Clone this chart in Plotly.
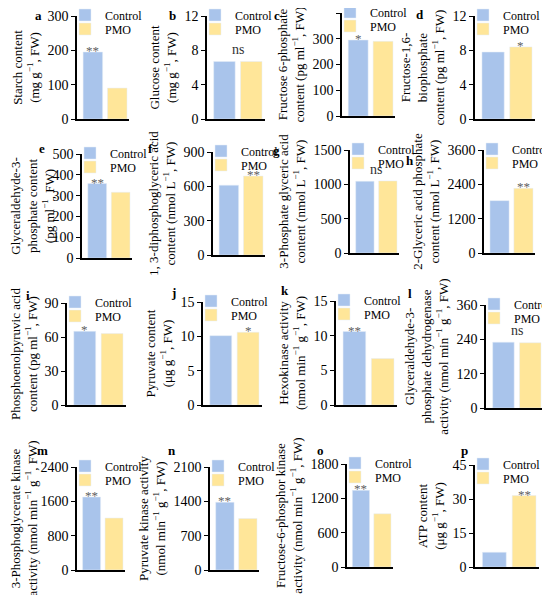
import plotly.graph_objects as go

W, H = 550, 595
groups = ["Control", "PMO"]
letters = list("abcdefghijklmnop")

y_titles = [
    "Starch content<br>(mg g<sup>−1</sup>, FW)",
    "Glucose content<br>(mg g<sup>−1</sup>, FW)",
    "Fructose 6-phosphate<br>content (pg ml<sup>−1</sup>, FW)",
    "Fructose-1,6-<br>biophosphate<br>content (pg ml<sup>−1</sup>, FW)",
    "Glyceraldehyde-3-<br>phosphate content<br>(pg ml<sup>−1</sup>, FW)",
    "1, 3-diphosphoglyceric acid<br>content (nmol L<sup>−1</sup>, FW)",
    "3-Phosphate glyceric acid<br>content (nmol L<sup>−1</sup>, FW)",
    "2-Glyceric acid phosphate<br>content (nmol L<sup>−1</sup>, FW)",
    "Phosphoenolpyruvic acid<br>content (pg ml<sup>−1</sup>, FW)",
    "Pyruvate content<br>(μg g<sup>−1</sup>, FW)",
    "Hexokinase activity<br>(nmol min<sup>−1</sup> g<sup>−1</sup>, FW)",
    "Glyceraldehyde-3-<br>phosphate dehydrogenase<br>activity (nmol min<sup>−1</sup> g<sup>−1</sup>, FW)",
    "3-Phosphoglycerate kinase<br>activity (nmol min<sup>−1</sup> g<sup>−1</sup>, FW)",
    "Pyruvate kinase activity<br>(nmol min<sup>−1</sup> g<sup>−1</sup>, FW)",
    "Fructose-6-phosphor kinase<br>activity (nmol min<sup>−1</sup> g<sup>−1</sup>, FW)",
    "ATP content<br>(μg g<sup>−1</sup>, FW)",
]

control = [195, 6.7, 295, 7.8, 358, 610, 1045, 1830,
           65, 10.1, 10.6, 230, 1700, 1380, 1340, 6.5]
pmo = [90, 6.7, 290, 8.4, 316, 690, 1050, 2260,
       63, 10.6, 6.7, 228, 1210, 1050, 930, 31.5]
y_max = [300, 12, 400, 12, 500, 900, 1500, 3600,
         90, 15, 15, 360, 2400, 2100, 1800, 45]
y_step = [100, 4, 100, 4, 100, 300, 500, 1200,
          30, 5, 5, 120, 800, 700, 600, 15]
sig_text = ["**", "ns", "*", "*", "**", "**", "ns", "**",
            "*", "*", "**", "ns", "**", "**", "**", "**"]
sig_pos = [0, 0.5, 0, 1, 0, 1, 0.5, 1,
           0, 1, 0, 0.5, 0, 0, 0, 1]

# panel frames in px: y spine x, right edge of PMO bar, top, bottom
frames = [
    (77, 127, 16, 119), (207, 262, 16, 119), (342, 393, 13, 116), (475, 532, 16, 119),
    (82, 130, 154, 258), (213, 263, 152, 255), (350, 397, 150, 253), (484, 533, 150, 253),
    (67, 123, 303, 405), (203, 259, 302, 405), (336, 394, 301, 405), (486, 541, 305, 408),
    (77, 123, 467, 570), (210, 257, 467, 570), (347, 391, 464, 567), (475, 536, 465, 567),
]
title_gap = [5, 5, 5, 5, 10, 5, 5, 5, 6, 5, 5, 5, 5, 5, 5, 5]
letter_xy = [
    (38, 16), (172, 16), (277, 16), (420, 15),
    (42, 148), (150, 148), (276, 150), (410, 160),
    (28, 295), (173, 292), (285, 290), (410, 293),
    (42, 450), (172, 450), (320, 450), (464, 450),
]

BLUE = "#a9c4eb"
YELLOW = "#ffe699"
FONT = "Liberation Serif, Times New Roman, serif"
XR = [-0.65, 1.5]
SHIFT = 8  # page body margin


def px_x(v):
    return (v - SHIFT) / W


def px_y(v):
    return 1 - (v - SHIFT) / H


fig = go.Figure()
layout = dict(
    width=W, height=H,
    margin=dict(l=0, r=0, t=0, b=0, autoexpand=False),
    paper_bgcolor="white", plot_bgcolor="white",
    font=dict(family=FONT, size=14, color="black"),
    barmode="overlay", bargap=0.2, showlegend=True,
)
annotations = []

for i in range(16):
    n = "" if i == 0 else str(i + 1)
    x0, r, top, bot = frames[i]
    w = (r - x0) / ((1.4 - XR[0]) / (XR[1] - XR[0]))

    for k, (name, val, col) in enumerate([("Control", control[i], BLUE), ("PMO", pmo[i], YELLOW)]):
        li = 2 * i + k
        leg = "legend" if li == 0 else "legend%d" % (li + 1)
        fig.add_bar(x=[name], y=[val], name=name, marker_color=col,
                    xaxis="x" + n, yaxis="y" + n, legend=leg)
        row_y = top - 1 + 14 * k
        layout[leg] = dict(
            x=px_x(x0 - 12), y=px_y(row_y - 14.5), xanchor="left", yanchor="top",
            bgcolor="rgba(0,0,0,0)", font=dict(size=12), visible=True,
        )

    layout["xaxis" + n] = dict(
        domain=[px_x(x0), px_x(x0 + w)], range=XR, anchor="y" + n,
        categoryorder="array", categoryarray=groups,
        showticklabels=False, ticks="", showgrid=False, zeroline=False,
        showline=True, linecolor="black", linewidth=1.5,
    )
    layout["yaxis" + n] = dict(
        domain=[px_y(bot), px_y(top)], range=[0, y_max[i]], anchor="x" + n,
        tick0=0, dtick=y_step[i], ticks="outside", ticklen=4, tickwidth=1.2,
        tickcolor="black", showgrid=False, zeroline=False,
        showline=True, linecolor="black", linewidth=1.5,
        tickfont=dict(size=14),
        title=dict(text=y_titles[i], font=dict(size=13), standoff=title_gap[i]),
    )

    sy = max(control[i], pmo[i]) if sig_pos[i] == 0.5 else (control[i], pmo[i])[sig_pos[i]]
    is_ns = sig_text[i] == "ns"
    annotations.append(dict(
        x=sig_pos[i], y=sy, xref="x" + n, yref="y" + n, text=sig_text[i],
        showarrow=False, yanchor="bottom", yshift=2 if is_ns else -8,
        font=dict(size=14 if is_ns else 13, color="#333" if is_ns else "#606060"),
    ))
    lx, ly = letter_xy[i]
    annotations.append(dict(
        x=px_x(lx), y=px_y(ly), xref="paper", yref="paper", text="<b>%s</b>" % letters[i],
        showarrow=False, xanchor="center", yanchor="middle", font=dict(size=13),
    ))

layout["annotations"] = annotations
fig.update_layout(**layout)
fig.write_html("out.html")
